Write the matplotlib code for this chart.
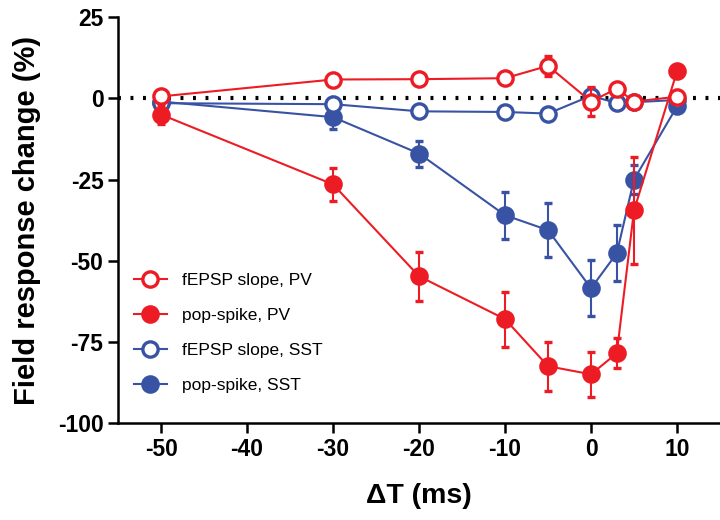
import matplotlib
matplotlib.use('Agg')
from matplotlib import pyplot as plt
from matplotlib.lines import Line2D

plt.rcParams['font.family'] = ['Liberation Sans', 'DejaVu Sans']
plt.rcParams['axes.unicode_minus'] = False

# delay between stimuli (ms)
dt = [-50, -30, -20, -10, -5, 0, 3, 5, 10]

# PV
slope_pv = [0.6, 5.8, 5.9, 6.2, 10.0, -1.0, 3.0, -1.0, 0.5]
slope_pv_err = [1.0, 1.0, 1.0, 1.0, 3.0, 4.5, 1.5, 1.0, 1.0]
spike_pv = [-5.0, -26.5, -54.8, -68.0, -82.5, -85.0, -78.5, -34.5, 8.3]
spike_pv_err = [3.0, 5.0, 7.5, 8.5, 7.5, 7.0, 4.6, 16.5, 1.0]

# SST
slope_sst = [-1.5, -1.8, -4.0, -4.2, -4.7, 0.8, -1.5, -1.2, -0.5]
slope_sst_err = [1.0, 1.0, 1.0, 1.0, 1.0, 2.5, 1.0, 1.0, 1.0]
spike_sst = [-1.0, -5.8, -17.0, -36.0, -40.6, -58.5, -47.7, -25.0, -2.5]
spike_sst_err = [1.5, 3.5, 4.0, 7.2, 8.3, 8.6, 8.7, 4.5, 1.0]

red = '#ED1C24'
blue = '#3953A4'

fig = plt.figure(figsize=(7.2, 5.2), dpi=100)
ax = fig.add_axes([0.164, 0.1865, 0.836, 0.7805])

ax.axhline(0, color='black', lw=3.0, dashes=(0.7, 2.3), zorder=1)

series = [
    (spike_sst, spike_sst_err, blue, blue, 'pop-spike, SST', 2),
    (slope_sst, slope_sst_err, blue, 'white', 'fEPSP slope, SST', 3),
    (spike_pv, spike_pv_err, red, red, 'pop-spike, PV', 4),
    (slope_pv, slope_pv_err, red, 'white', 'fEPSP slope, PV', 5),
]
handles = {}
for vals, err, col, face, lab, z in series:
    ax.errorbar(dt, vals, yerr=err, color=col, lw=1.5, marker='o',
                ms=11, mfc=face, mec=col, mew=2.4, ecolor=col,
                elinewidth=1.5, capsize=3, capthick=1.5, zorder=z)
    handles[lab] = Line2D([], [], color=col, lw=1.5, marker='o', ms=11,
                          mfc=face, mec=col, mew=2.4)

order = ['fEPSP slope, PV', 'pop-spike, PV', 'fEPSP slope, SST', 'pop-spike, SST']
ax.legend([handles[k] for k in order], order, loc='lower left',
          bbox_to_anchor=(0.0, 0.035), frameon=False, fontsize=12.5,
          handlelength=1.9, labelspacing=1.15, handletextpad=0.9)

ax.set_xlim(-55, 15)
ax.set_ylim(-100, 25)
ax.set_xticks([-50, -40, -30, -20, -10, 0, 10])
ax.set_yticks([-100, -75, -50, -25, 0, 25])

for s in ['top', 'right']:
    ax.spines[s].set_visible(False)
for s in ['left', 'bottom']:
    ax.spines[s].set_linewidth(1.8)
ax.tick_params(width=1.8, length=7, labelsize=16.5)
for t in ax.get_xticklabels() + ax.get_yticklabels():
    t.set_fontweight('bold')

ax.set_xlabel('\u0394T (ms)', fontsize=20.5, fontweight='bold', labelpad=16)
ax.set_ylabel('Field response change (%)', fontsize=21, fontweight='bold',
              labelpad=12)

fig.savefig('out.png', dpi=100)
